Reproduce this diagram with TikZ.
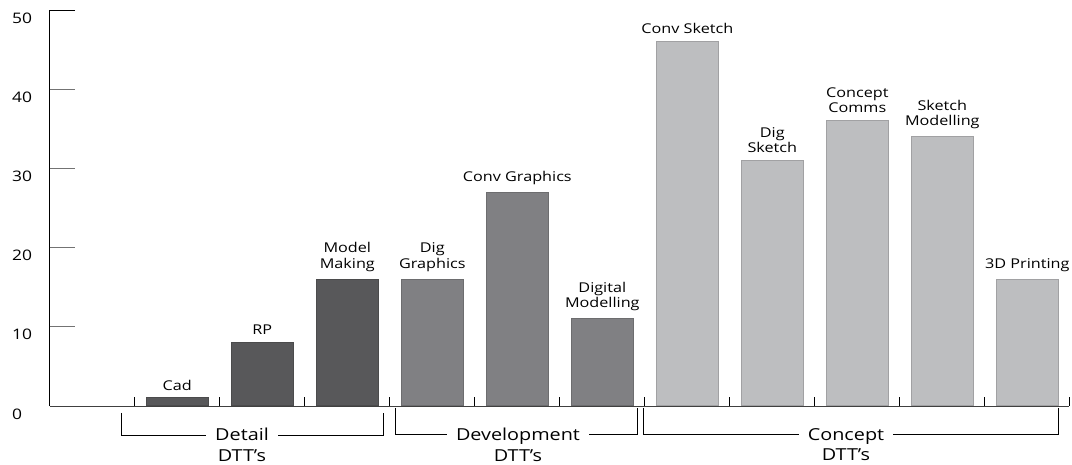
\documentclass[tikz,border=0pt]{standalone}
\usepackage{fontspec}
\setmainfont[FakeStretch=1.2]{Open Sans}
\usepackage{tikz}
\usetikzlibrary{positioning}

\definecolor{detailgray}{HTML}{58585A}
\definecolor{devgray}{HTML}{808083}
\definecolor{conceptgray}{HTML}{BDBEC0}

\begin{document}
\begin{tikzpicture}[
		x=1pt, y=1pt,
		bar/.style={rectangle, anchor=south west, minimum width=62pt, inner sep=0pt, line width=0.6pt},
		barlabel/.style={align=center, font=\fontsize{13.5}{15.5}\selectfont, inner sep=0pt},
		axislabel/.style={anchor=west, font=\fontsize{14.5}{16}\selectfont, inner sep=0pt},
		grouplabel/.style={align=center, font=\fontsize{16.5}{20.5}\selectfont, fill=white, inner xsep=9pt, inner ysep=2pt}
	]
  \useasboundingbox (0,0) rectangle (1072,465);
  % axes
  \draw[line width=0.9pt] (75,455) -- (49.5,455) -- (49.5,59);
  \draw[line width=0.9pt, black!75] (49.5,59) -- (1069,59);
  \foreach \v in {1,...,4}
    \draw[line width=0.9pt, black!55] (49.5,59+79.2*\v) -- (75,59+79.2*\v);
  \foreach \v in {0,...,5}
    \node (y_\v) [axislabel] at (12,51+79.2*\v) {\number\numexpr\v*10\relax};
  \foreach \k in {0,...,11}
    \draw[line width=0.8pt] (134+85*\k,59) -- (134+85*\k,68);

  % bars
  \foreach \i/\val/\col/\lab in {
      0/1/detailgray/Cad, 1/8/detailgray/RP, 2/16/detailgray/{Model\\Making},
      3/16/devgray/{Dig\\Graphics}, 4/27/devgray/{Conv Graphics}, 5/11/devgray/{Digital\\Modelling},
      6/46/conceptgray/{Conv Sketch}, 7/31/conceptgray/{Dig\\Sketch}, 8/36/conceptgray/{Concept\\Comms},
      9/34/conceptgray/{Sketch\\Modelling}, 10/16/conceptgray/{3D Printing}} {
    \node (b_\i) [bar, fill=\col, draw=\col!85!black, minimum height=\val*7.92pt] at (146+85*\i,59) {};
    \node (l_\i) [barlabel, above=7pt of b_\i] {\lab};
  }

  % group brackets
  \draw[line width=0.8pt] (121,52) -- (121,30) -- (383,30) -- (383,52);
  \draw[line width=0.8pt] (395,57) -- (395,31) -- (637,31) -- (637,57);
  \draw[line width=0.8pt] (643,57) -- (643,31) -- (1058,31) -- (1058,57);
  \node (detail) [grouplabel, anchor=north] at (242,39) {Detail\\DTT’s};
  \node (development) [grouplabel, anchor=north] at (518,39) {Development\\DTT’s};
  \node (concept) [grouplabel, anchor=north] at (846,39) {Concept\\DTT’s};
\end{tikzpicture}
\end{document}
